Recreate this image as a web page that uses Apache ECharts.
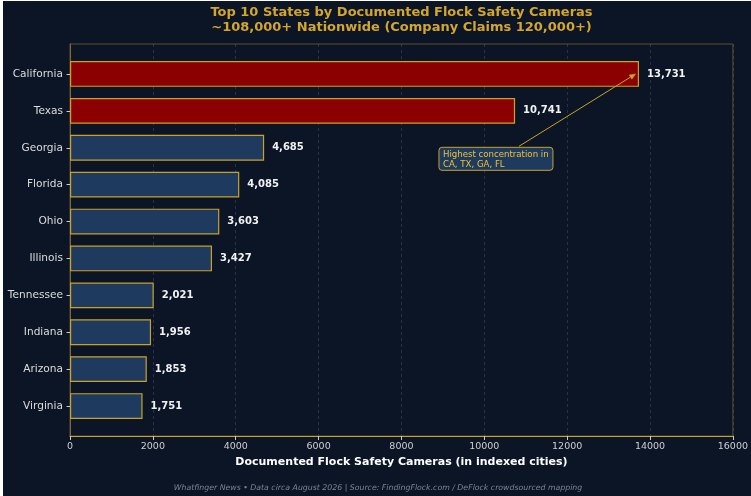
<!DOCTYPE html>
<html>
<head>
<meta charset="utf-8">
<script src="https://cdn.jsdelivr.net/npm/echarts@6/dist/echarts.min.js"></script>
<style>
  html, body { margin: 0; padding: 0; background: #ffffff; width: 751px; height: 496px; overflow: hidden; }
  #chart { position: absolute; left: 3px; top: 1px; width: 748px; height: 495px; }
</style>
</head>
<body>
<div id="chart"></div>
<script>
const states = ['California', 'Texas', 'Georgia', 'Florida', 'Ohio', 'Illinois', 'Tennessee', 'Indiana', 'Arizona', 'Virginia'];
const cameras = [13731, 10741, 4685, 4085, 3603, 3427, 2021, 1956, 1853, 1751];
const highlighted = ['California', 'Texas'];
const xTicks = [0, 2000, 4000, 6000, 8000, 10000, 12000, 14000, 16000];
const titleLines = ['Top 10 States by Documented Flock Safety Cameras', '~108,000+ Nationwide (Company Claims 120,000+)'];
const xAxisTitle = 'Documented Flock Safety Cameras (in indexed cities)';
const footer = 'Whatfinger News \u2022 Data circa August 2026 | Source: FindingFlock.com / DeFlock crowdsourced mapping';
const annotationText = ['Highest concentration in', 'CA, TX, GA, FL'];
const annotationTarget = [13650, 0];
const annotationTextPos = [9000, 2.3];

const FONT = 'DejaVu Sans';
const BG = '#0b1526';
const GOLD = '#c9a227';
const RED = '#8b0000';
const BLUE = '#1f3a5f';

const chart = echarts.init(document.getElementById('chart'));
const xMin = xTicks[0], xMax = xTicks[xTicks.length - 1], xStep = xTicks[1] - xTicks[0];

const gridLeft = 67, gridRight = 18;
const plotCenter = gridLeft + (748 - gridLeft - gridRight) / 2;

chart.setOption({
  backgroundColor: BG,
  animation: false,
  grid: [
    { left: gridLeft, right: gridRight, top: 43, bottom: 60, show: true, borderColor: '#5e5026', borderWidth: 1, backgroundColor: 'transparent' },
    { left: gridLeft, right: gridRight, top: 54.5, bottom: 71.5 }
  ],
  xAxis: [
    {
      gridIndex: 0, type: 'value', min: xMin, max: xMax, interval: xStep,
      name: xAxisTitle, nameLocation: 'middle', nameGap: 19,
      nameTextStyle: { color: '#ffffff', fontFamily: FONT, fontSize: 11, fontWeight: 'bold' },
      axisLine: { show: true, lineStyle: { color: GOLD, width: 1.2 } },
      axisTick: { show: true, length: 4, lineStyle: { color: '#cccccc' } },
      axisLabel: { color: '#cfcfcf', fontFamily: FONT, fontSize: 9.5, margin: 6, formatter: v => String(v) },
      splitLine: { show: true, lineStyle: { color: 'rgba(140,150,170,0.3)', type: [3, 3], width: 0.8 } }
    },
    {
      gridIndex: 1, type: 'value', min: xMin, max: xMax, interval: xStep, show: false,
      splitLine: { show: false }
    }
  ],
  yAxis: [
    {
      gridIndex: 0, type: 'value', show: true, min: 0, max: 1,
      axisLine: { show: true, lineStyle: { color: '#7d6b35', width: 1 } },
      axisTick: { show: false }, axisLabel: { show: false }, splitLine: { show: false }
    },
    {
      gridIndex: 1, type: 'category', data: states, inverse: true,
      axisLine: { show: false },
      axisTick: { show: true, length: 3.5, alignWithLabel: true, lineStyle: { color: '#cccccc' } },
      axisLabel: { color: '#dcdcdc', fontFamily: FONT, fontSize: 10.6, margin: 7 }
    }
  ],
  series: [{
    type: 'bar',
    xAxisIndex: 1, yAxisIndex: 1,
    barWidth: '70%',
    data: cameras.map((v, i) => ({
      value: v,
      itemStyle: {
        color: highlighted.includes(states[i]) ? RED : BLUE,
        borderColor: GOLD, borderWidth: 1.2
      }
    })),
    label: {
      show: true, position: 'right', distance: 8,
      color: '#f2f2f2', fontFamily: FONT, fontSize: 10, fontWeight: 'bold',
      formatter: p => p.value.toLocaleString('en-US')
    }
  }]
});

// Annotation placed through the chart's own scales
const finder = { xAxisIndex: 1, yAxisIndex: 1 };
const tip = chart.convertToPixel(finder, [annotationTarget[0], annotationTarget[1]]);
const yLo = Math.floor(annotationTextPos[1]);
const pLo = chart.convertToPixel(finder, [annotationTextPos[0], yLo]);
const pHi = chart.convertToPixel(finder, [annotationTextPos[0], yLo + 1]);
const frac = annotationTextPos[1] - yLo;
const tx = pLo[0];
const ty = pLo[1] + (pHi[1] - pLo[1]) * frac;

const boxW = 114, boxH = 23;
const boxX = tx - 4, boxY = ty - boxH / 2;
const start = [boxX + 80, boxY - 1];
const ang = Math.atan2(tip[1] - start[1], tip[0] - start[0]);
const hl = 6, hw = 2.5;
const back = [tip[0] - hl * Math.cos(ang), tip[1] - hl * Math.sin(ang)];
const headPts = [
  tip,
  [back[0] + hw * Math.sin(ang), back[1] - hw * Math.cos(ang)],
  [back[0] - hw * Math.sin(ang), back[1] + hw * Math.cos(ang)]
];

chart.setOption({
  graphic: [
    {
      type: 'text', silent: true,
      x: plotCenter, y: 4,
      style: {
        text: titleLines.join('\n'), fill: '#d4a72c', font: 'bold 13px "DejaVu Sans"',
        textAlign: 'center', lineHeight: 15
      }
    },
    {
      type: 'line', z: 100, silent: true,
      shape: { x1: start[0], y1: start[1], x2: back[0], y2: back[1] },
      style: { stroke: GOLD, lineWidth: 1 }
    },
    {
      type: 'polygon', z: 100, silent: true,
      shape: { points: headPts },
      style: { fill: GOLD, stroke: GOLD, lineWidth: 0.5 }
    },
    {
      type: 'rect', z: 100, silent: true,
      shape: { x: boxX, y: boxY, width: boxW, height: boxH, r: 3 },
      style: { fill: BLUE, stroke: GOLD, lineWidth: 1 }
    },
    {
      type: 'text', z: 101, silent: true,
      x: boxX + 4, y: boxY + 2.5,
      style: { text: annotationText.join('\n'), fill: '#f2c230', font: '8.6px "DejaVu Sans"', lineHeight: 10 }
    },
    {
      type: 'text', silent: true,
      x: 375, y: 487,
      style: { text: footer, fill: '#7e8490', font: 'italic 7.8px "DejaVu Sans"', textAlign: 'center', textVerticalAlign: 'middle' }
    }
  ]
});
</script>
</body>
</html>
